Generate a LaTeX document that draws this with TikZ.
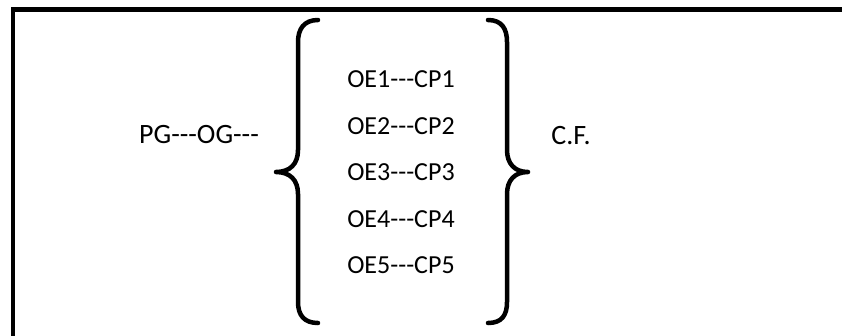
\documentclass[tikz,border=0pt]{standalone}
\usepackage{fontspec}
\newfontfamily\cf{Carlito}
\newcommand\hh{\mbox{-}\mbox{-}\mbox{-}}
\begin{document}
\begin{tikzpicture}[x=1pt,y=-1pt,
  frame/.style={line width=4.5pt},
  brace/.style={line width=4.5pt,line cap=round,line join=round},
  item/.style={anchor=base,inner sep=0pt,font=\cf\fontsize{26}{30}\selectfont},
  big/.style={anchor=base,inner sep=0pt,font=\cf\fontsize{28}{32}\selectfont}]
\useasboundingbox (0,0) rectangle (842,335);
% frame (open on the right and bottom)
\draw[frame] (13,340) -- (13,9.5) -- (850,9.5);
% left brace
\draw[brace] (318,20) .. controls (304,20) and (298,29) .. (298,42)
  -- (298,150) .. controls (298,164) and (290,172) .. (276,172)
  .. controls (290,172) and (298,180) .. (298,194)
  -- (298,302) .. controls (298,315) and (304,323) .. (318,323);
% right brace
\draw[brace] (488,20) .. controls (502,20) and (507,29) .. (507,42)
  -- (507,150) .. controls (507,164) and (515,172) .. (528,172)
  .. controls (515,172) and (507,180) .. (507,194)
  -- (507,302) .. controls (507,315) and (502,323) .. (488,323);
\node[big] (pg) at (199,143) {PG\hh OG\hh};
\node[big] (cf) at (571,144) {C.F.};
\node[item] (oe1) at (401,87.5) {OE1\hh CP1};
\node[item] (oe2) at (401,134) {OE2\hh CP2};
\node[item] (oe3) at (401,180.5) {OE3\hh CP3};
\node[item] (oe4) at (401,227) {OE4\hh CP4};
\node[item] (oe5) at (401,273.5) {OE5\hh CP5};
\end{tikzpicture}
\end{document}
